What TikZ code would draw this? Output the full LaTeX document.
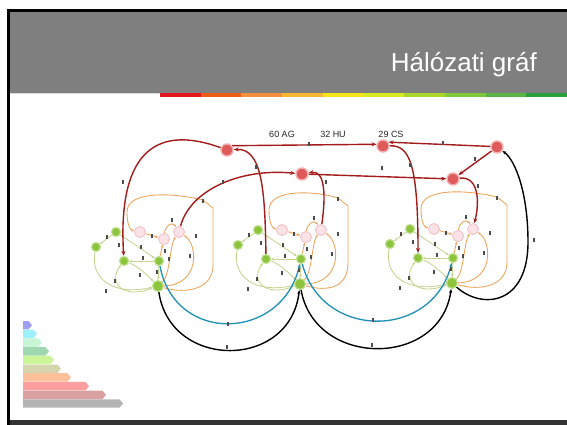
\documentclass[tikz,border=0pt]{standalone}
\usepackage{fontspec}
\setmainfont{Liberation Sans}
\usetikzlibrary{arrows.meta}
\pgfdeclarelayer{back}
\pgfdeclarelayer{bg}
\pgfsetlayers{back,bg,main}
\definecolor{hdr}{HTML}{7F7F7F}
\definecolor{gfill}{HTML}{8CC43C}
\definecolor{ghalo}{HTML}{BFDF8F}
\definecolor{rfill}{HTML}{DF5B5B}
\definecolor{rhalo}{HTML}{F2AFAF}
\definecolor{pfill}{HTML}{FBE2E6}
\definecolor{phalo}{HTML}{EFC2CA}
\definecolor{redc}{HTML}{A31B1B}
\definecolor{orc}{HTML}{EBA45A}
\definecolor{grc}{HTML}{C6D492}
\definecolor{bluc}{HTML}{2090B8}
\definecolor{cb1}{HTML}{E3161B}
\definecolor{cb2}{HTML}{EE5B12}
\definecolor{cb3}{HTML}{F39040}
\definecolor{cb4}{HTML}{F6B830}
\definecolor{cb5}{HTML}{F7E41D}
\definecolor{cb6}{HTML}{D7EA20}
\definecolor{cb7}{HTML}{A9D82A}
\definecolor{cb8}{HTML}{7EC83A}
\definecolor{cb9}{HTML}{58B543}
\definecolor{cb10}{HTML}{2AA03A}
\definecolor{lg1}{HTML}{9E9EF5}
\definecolor{lg2}{HTML}{9EF0FF}
\definecolor{lg3}{HTML}{C8F5D5}
\definecolor{lg4}{HTML}{9FD8B0}
\definecolor{lg5}{HTML}{CCF59A}
\definecolor{lg6}{HTML}{D5D5AD}
\definecolor{lg7}{HTML}{FFC09A}
\definecolor{lg8}{HTML}{FF9E9E}
\definecolor{lg9}{HTML}{D9A0A0}
\definecolor{lg10}{HTML}{B4B4B4}
\tikzset{
 gnode/.style={circle, fill=gfill, draw=ghalo, line width=1.2pt, minimum size=9pt, inner sep=0pt},
 bignode/.style={gnode, minimum size=11pt},
 rnode/.style={circle, fill=rfill, draw=rhalo, line width=1.4pt, minimum size=12pt, inner sep=0pt},
 pnode/.style={circle, fill=pfill, draw=phalo, line width=0.9pt, minimum size=11pt, inner sep=0pt},
 redge/.style={draw=redc, line width=1.4pt, -{Stealth[length=5pt,width=4pt]}},
 oedge/.style={draw=orc, line width=0.85pt, -{Stealth[length=3pt,width=2.6pt]}},
 gedge/.style={draw=grc, line width=0.85pt, -{Stealth[length=3pt,width=2.6pt]}},
 bledge/.style={draw=bluc, line width=1.3pt, -{Stealth[length=4pt,width=3.2pt]}},
 kedge/.style={draw=black, line width=1.4pt, -{Stealth[length=4pt,width=3.2pt]}},
 lblmark/.style={rectangle, fill=black!70, minimum width=2.4pt, minimum height=3.4pt, inner sep=0pt},
 toplabel/.style={font=\fontsize{9}{10}\selectfont, text=black!85, inner sep=0pt}
}
\newcommand\drawcluster[4]{%
\begin{scope}[shift={(#2,#3)}]
\node[gnode] (#1A) at (116,232) {};
\node[gnode] (#1B) at (96,247) {};
\node[gnode] (#1C) at (124,261) {};
\node[gnode] (#1D) at (159,261) {};
\node[bignode] (#1E) at (158,286) {};
\node[pnode] (#1P) at (140,232) {};
\node[pnode] (#1Q) at (164,239) {};
\node[pnode] (#1R) at (179,232) {};
\begin{pgfonlayer}{bg}
\draw[gedge] (#1A) -- (#1B);
\draw[gedge] (#1B) .. controls (90,278) and (112,296) .. (#1E);
\draw[gedge] (#1A) -- (#1D);
\draw[gedge] (#1D) -- (#1C);
\draw[gedge] (#1C) .. controls (138,266) and (148,276) .. (#1E);
\draw[gedge] (#1E) .. controls (122,300) and (108,282) .. (#1C);
\draw[gedge] (#1D) -- (#1E);
\draw[oedge] (#1E) .. controls (185,294) and (#4,290) .. (#4,265) -- (#4,208) -- ({#4-10},200) .. controls (175,193) and (127,190) .. (127,212) .. controls (127,224) and (130,230) .. (#1P);
\draw[oedge] (#1P) -- (#1Q);
\draw[oedge] (#1Q) .. controls (165,226) and (172,221) .. (#1R);
\draw[oedge] (#1D) -- (#1Q);
\draw[oedge] (#1E) .. controls (170,275) and (170,245) .. (#1R);
\draw[oedge] (#1E) .. controls (200,285) and (198,245) .. (#1R);
\end{pgfonlayer}
\foreach \mx/\my [count=\k] in {107/237,106/291,141/247,143/258,140/275,115/281,165/251,157/272,169/259,190/256,152/236,172/220,196/236,{#4-10}/201,119/245}
  \node[lblmark] (#1m\k) at (\mx,\my) {};
\end{scope}}
\begin{document}
\begin{tikzpicture}[x=1pt,y=-1pt]
\useasboundingbox (0,0) rectangle (567,425);
\begin{pgfonlayer}{back}
\fill[white] (0,0) rectangle (567,425);
\fill[hdr] (10,12) rectangle (567,93);
\fill[black] (7,9.5) rectangle (567,12.5);
\fill[black] (7,9.5) rectangle (10,425);
\fill[black!80] (10,420) rectangle (567,425);
\fill[black!15] (10,93) rectangle (160,94.5);
\foreach \c [count=\i from 0] in {cb1,cb2,cb3,cb4,cb5,cb6,cb7,cb8,cb9,cb10}
  \fill[\c] ({160+\i*40.7},93) rectangle ({160+\i*40.7+41},97);
\foreach \c/\e [count=\k from 0] in {lg1/32,lg2/37,lg3/42,lg4/49,lg5/54,lg6/61,lg7/71,lg8/89,lg9/106,lg10/123}
  \fill[\c] (23,{321+\k*8.7}) -- ({\e-3.5},{321+\k*8.7}) -- (\e,{325.2+\k*8.7}) -- ({\e-3.5},{329.4+\k*8.7}) -- (23,{329.4+\k*8.7}) -- cycle;
\end{pgfonlayer}
\node[anchor=base east, text=white, font=\fontsize{26}{30}\selectfont, inner sep=0pt] (title) at (537,72) {Hálózati gráf};
% top labels
\node[toplabel] (lAG) at (282,134) {60 AG};
\node[toplabel] (lHU) at (333,134) {32 HU};
\node[toplabel] (lCS) at (391,134) {29 CS};
% red top nodes
\node[rnode] (R1) at (227,150) {};
\node[rnode] (R2) at (302,174) {};
\node[rnode] (R3) at (383,146) {};
\node[rnode] (R4) at (497,147) {};
\node[rnode] (R5) at (453,179) {};
% clusters
\drawcluster{c1}{0}{0}{213}
\drawcluster{c2}{142}{-2}{206}
\drawcluster{c3}{294}{-3}{213}
\begin{pgfonlayer}{bg}
\draw[redge] (R1.40) -- (R3.165);
\draw[redge] (R4.175) -- (R3.35);
\draw[redge] (R4) -- (R5);
\draw[redge] (R2) -- (R5);
\draw[redge] (c1R) .. controls (190,190) and (240,168) .. (R2);
\draw[redge] (c2R) .. controls (326,195) and (325,170) .. (R2);
\draw[redge] (c2C) .. controls (265,190) and (262,148) .. (R1);
\draw[redge] (R1) .. controls (150,122) and (118,160) .. (c1C);
\draw[redge] (R3) .. controls (410,145) and (418,165) .. (c3C);
\draw[redge] (R5) .. controls (478,176) and (480,200) .. (c3R);
\draw[bledge] (c1D) .. controls (175,345) and (282,341) .. (c2D);
\draw[bledge] (c2D) .. controls (322,340) and (432,340) .. (c3D);
\draw[kedge] (c1E) .. controls (170,370) and (290,370) .. (c2E);
\draw[kedge] (c2E) .. controls (315,368) and (440,368) .. (c3E);
\draw[kedge] (c3E) .. controls (482,310) and (528,305) .. (528,242) .. controls (528,192) and (515,160) .. (R4);
\end{pgfonlayer}
\foreach \mx/\my [count=\k] in {309/144,443/143,475/159,382/168,223/182,256/167,326/182,410/165,478/186,123/182,534/240,228/324,373/320,227/347,372/345}
  \node[lblmark] (gm\k) at (\mx,\my) {};
\end{tikzpicture}
\end{document}
